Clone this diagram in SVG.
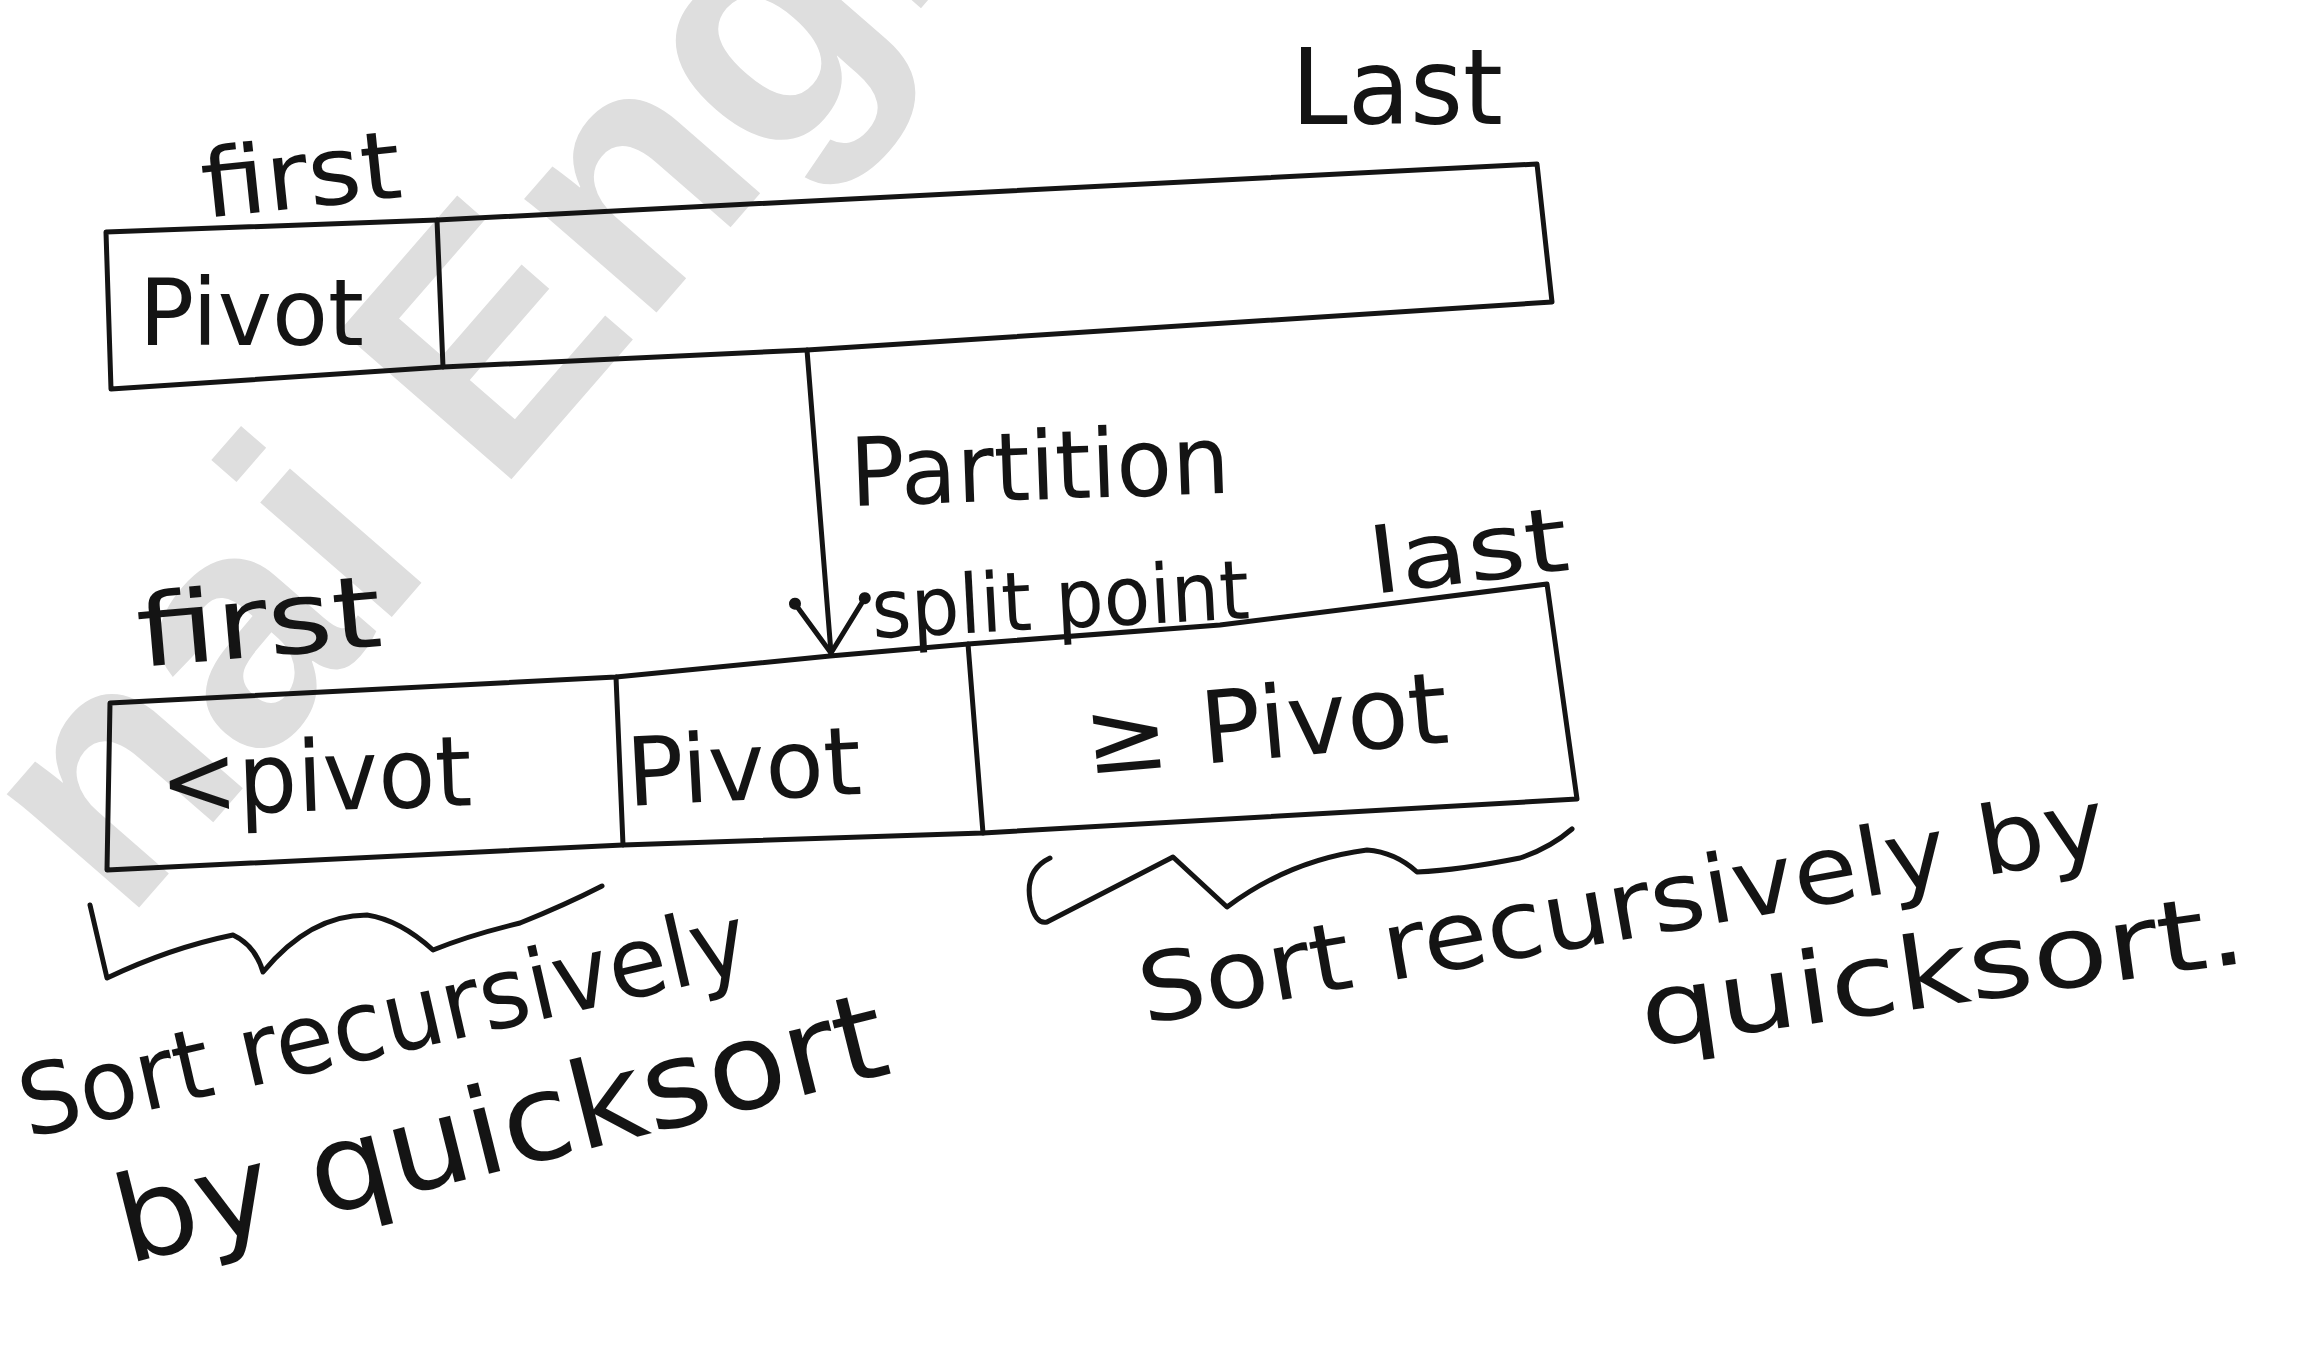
<svg xmlns="http://www.w3.org/2000/svg" width="2300" height="1351" viewBox="0 0 2300 1351">
<style>
.ln{fill:none;stroke:#141414;stroke-width:5;stroke-linejoin:round;stroke-linecap:round}
.hw{font-family:"DejaVu Sans","Liberation Sans",Arial,sans-serif;fill:#141414}
.wm{font-family:"Liberation Sans",Arial,sans-serif;font-weight:bold;fill:#dedede}
</style>
<defs>
<marker id="vhead" markerUnits="userSpaceOnUse" viewBox="-70 -50 80 100" refX="0" refY="0" markerWidth="80" markerHeight="100" orient="auto">
<path d="M-52,-38 L0,0 L-52,32" fill="none" stroke="#141414" stroke-width="5" stroke-linecap="round"/>
<circle cx="-52" cy="-38" r="6" fill="#141414"/>
<circle cx="-52" cy="32" r="6" fill="#141414"/>
</marker>
</defs>
<rect width="2300" height="1351" fill="#ffffff"/>
<g id="watermark">
<text class="wm" x="124" y="925" font-size="330" transform="rotate(-49 124 925)">nai Engi</text>
</g>
<g id="node-array">
<path class="ln" d="M106,232 L437,220 L1537,164 L1552,302 L807,350 L443,367 L111,389 Z"/>
<path class="ln" d="M437,220 L443,367"/>
<text class="hw" x="205" y="218" font-size="95" textLength="200" lengthAdjust="spacingAndGlyphs" transform="rotate(-6 205 218)">first</text>
<text class="hw" x="1291" y="124" font-size="105" textLength="212" lengthAdjust="spacingAndGlyphs">Last</text>
<text class="hw" x="139" y="345" font-size="92" textLength="225" lengthAdjust="spacingAndGlyphs">Pivot</text>
</g>
<g id="node-partitioned">
<path class="ln" d="M110,703 L616,677 L830,656 L968,644 L1220,625 L1547,584 L1577,799 L983,833 L623,845 L107,870 Z"/>
<path class="ln" d="M616,677 L623,845"/>
<path class="ln" d="M968,644 L983,833"/>
<text class="hw" x="140" y="667" font-size="100" textLength="245" lengthAdjust="spacingAndGlyphs" transform="rotate(-5 140 667)">first</text>
<text class="hw" x="1373" y="594" font-size="90" textLength="200" lengthAdjust="spacingAndGlyphs" transform="rotate(-7 1373 594)">last</text>
<text class="hw" x="873" y="638" font-size="82" textLength="378" lengthAdjust="spacingAndGlyphs" transform="rotate(-3 873 638)">split point</text>
<text class="hw" x="161" y="816" font-size="98" textLength="312" lengthAdjust="spacingAndGlyphs" transform="rotate(-2 161 816)">&lt;pivot</text>
<text class="hw" x="628" y="806" font-size="95" textLength="235" lengthAdjust="spacingAndGlyphs" transform="rotate(-3 628 806)">Pivot</text>
<text class="hw" x="1087" y="774" font-size="100" textLength="365" lengthAdjust="spacingAndGlyphs" transform="rotate(-5 1087 774)">≥ Pivot</text>
</g>
<g id="connectors">
<path class="ln" d="M807,350 L831,653" marker-end="url(#vhead)"/>
<text class="hw" x="851" y="506" font-size="95" textLength="380" lengthAdjust="spacingAndGlyphs" transform="rotate(-2 851 506)">Partition</text>
<path class="ln" d="M90,905 L107,978 Q170,948 233,935 Q255,945 263,972 Q310,915 367,915 Q400,920 433,950 Q470,935 520,923 Q565,905 602,886"/>
<path class="ln" d="M1050,858 Q1025,870 1030,900 Q1035,925 1047,922 L1173,857 L1227,907 Q1290,860 1367,850 Q1395,852 1417,872 Q1460,870 1520,858 Q1550,848 1572,829"/>
</g>
<g id="notes">
<text class="hw" x="28" y="1138" font-size="98" textLength="744" lengthAdjust="spacingAndGlyphs" transform="rotate(-13 28 1138)">Sort recursively</text>
<text class="hw" x="127" y="1264" font-size="120" textLength="790" lengthAdjust="spacingAndGlyphs" transform="rotate(-14 127 1264)">by quicksort</text>
<text class="hw" x="1145" y="1024" font-size="95" textLength="980" lengthAdjust="spacingAndGlyphs" transform="rotate(-10 1145 1024)">Sort recursively by</text>
<text class="hw" x="1645" y="1047" font-size="100" textLength="610" lengthAdjust="spacingAndGlyphs" transform="rotate(-8 1645 1047)">quicksort.</text>
</g>
</svg>
